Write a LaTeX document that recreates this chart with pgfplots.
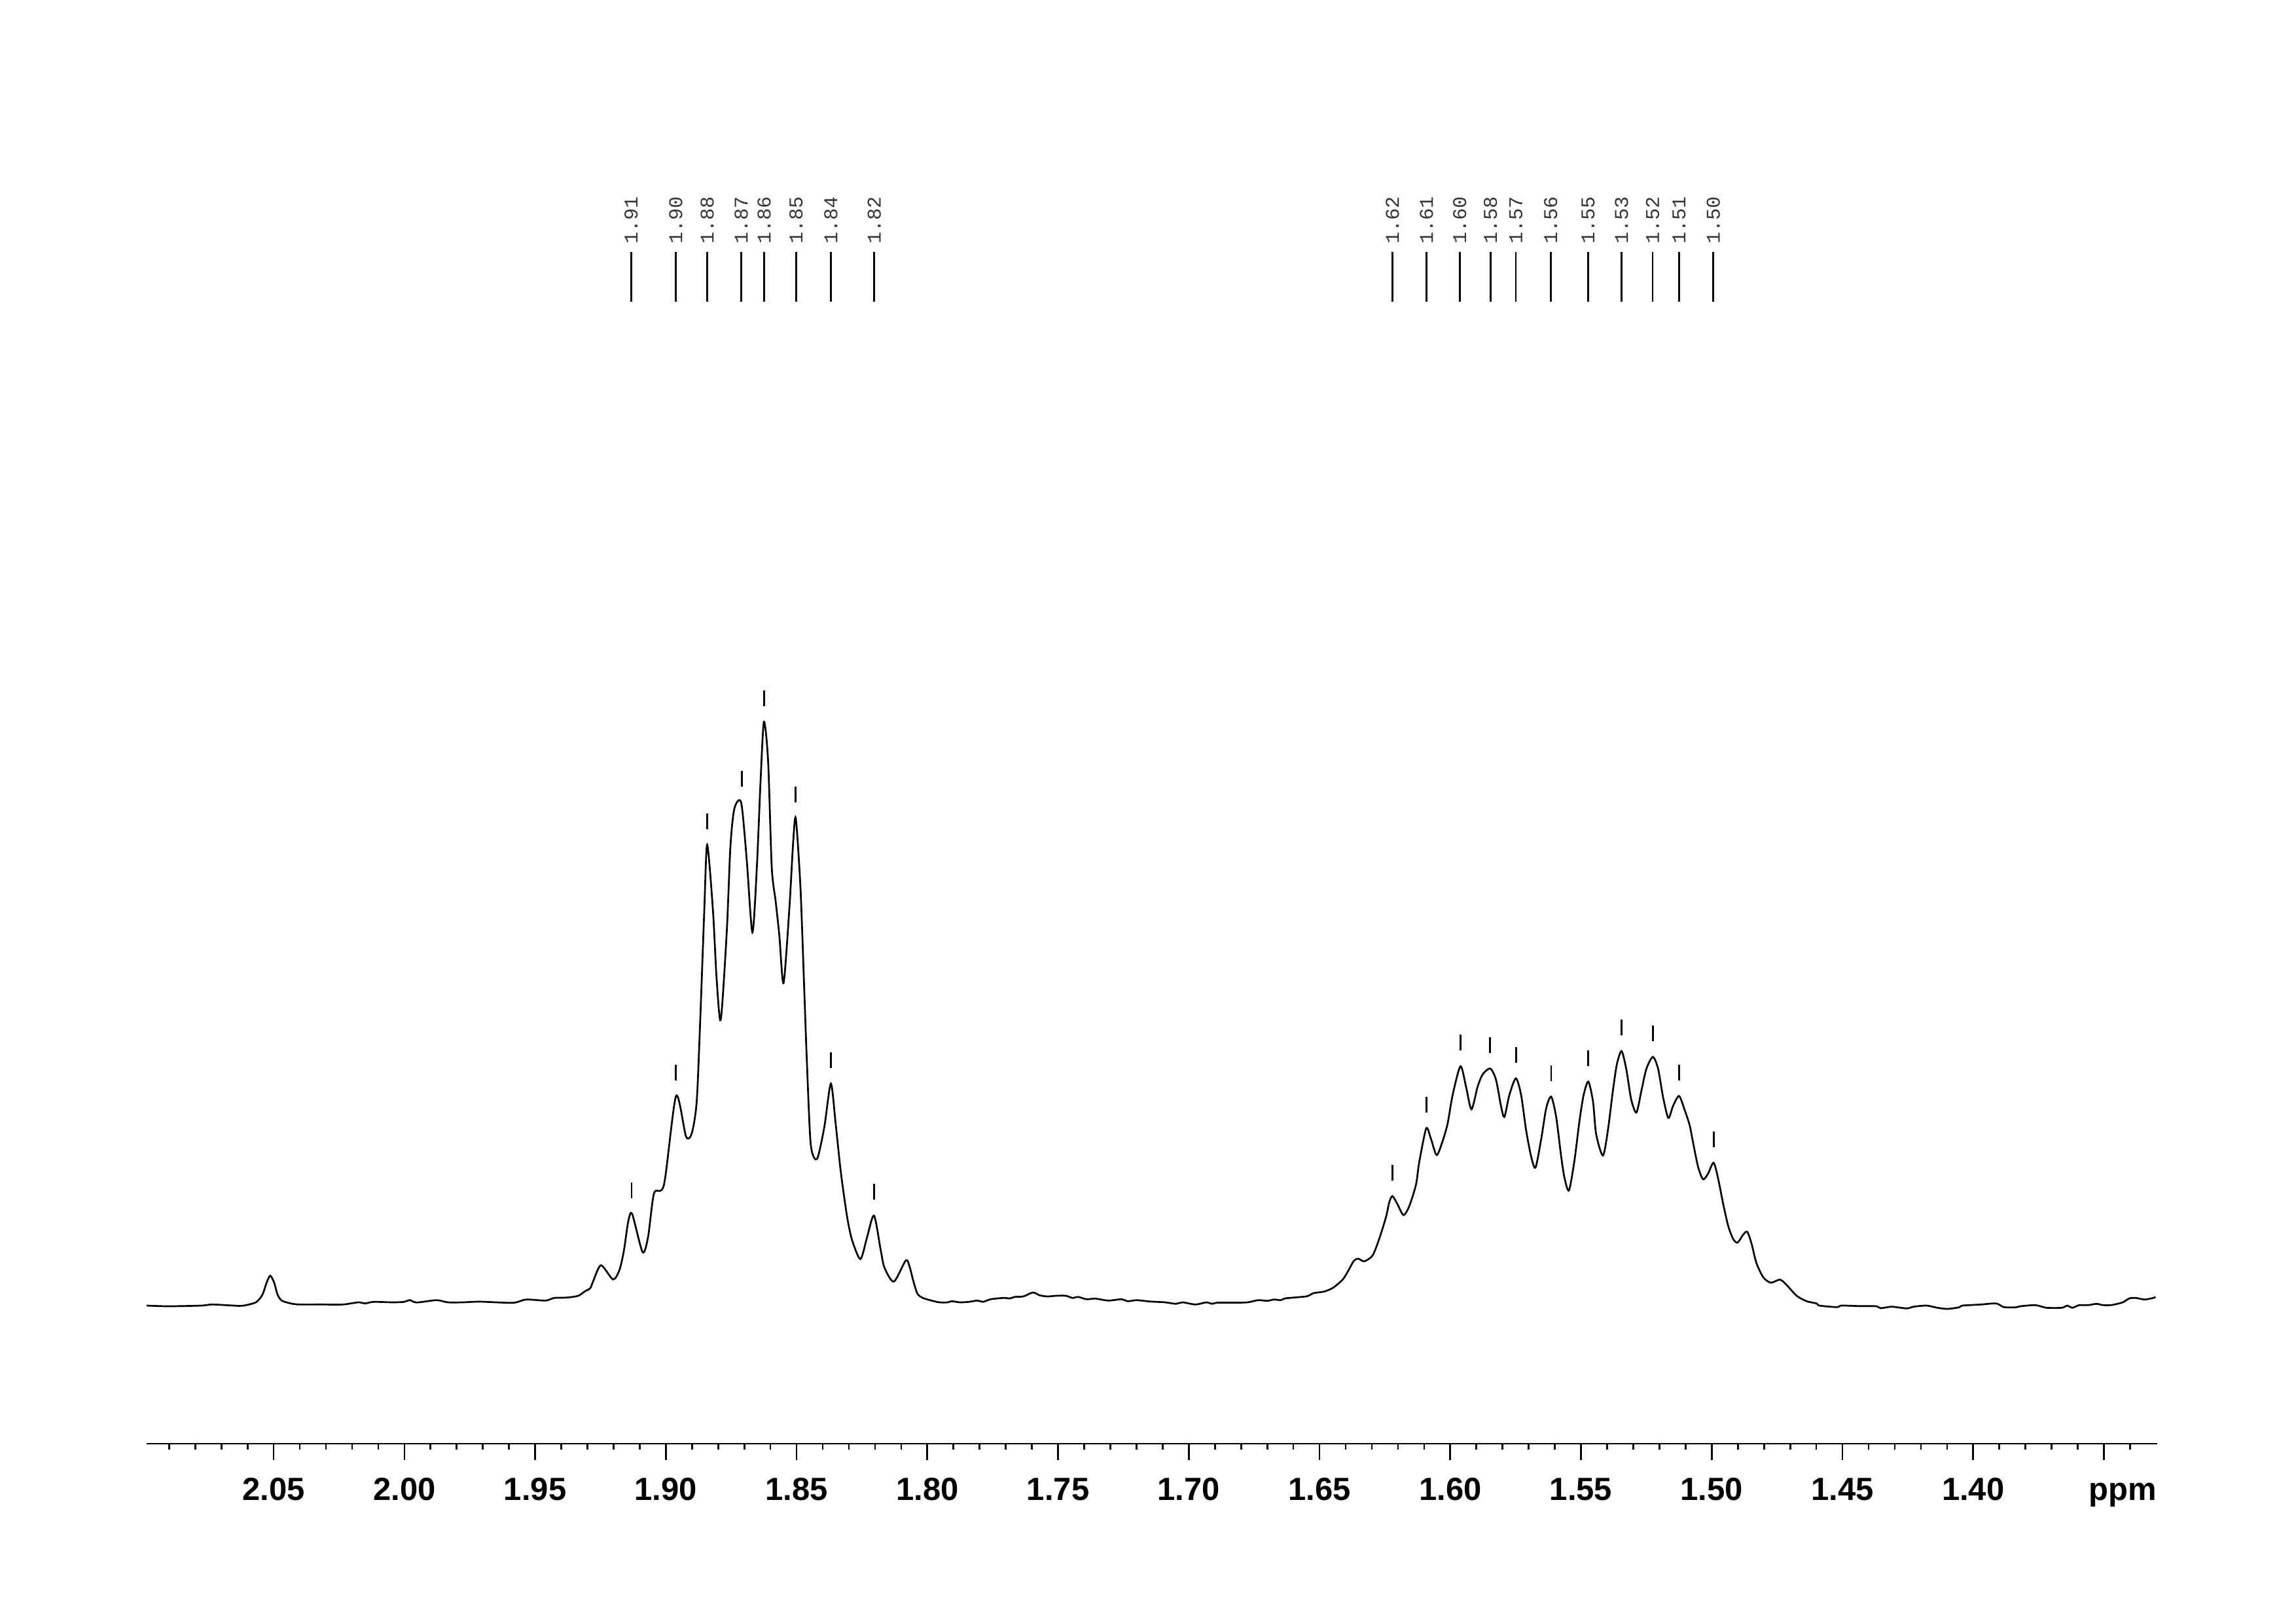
\documentclass[border=0pt]{standalone}
\usepackage{fontspec}
\setmainfont{Liberation Sans}
\newfontfamily\labelfont{Liberation Mono}
\usepackage{pgfplots}
\pgfplotsset{compat=1.18}
\usepackage{pgfplotstable}

\pgfplotstableread{
ppm I
2.0986 211
2.0902 210
2.0777 211
2.0735 212.7
2.0652 211
2.0619 210.7
2.0568 216
2.0543 227.7
2.0527 246
2.0513 256.7
2.0498 246
2.0485 227.7
2.0469 218.7
2.0435 214.3
2.0402 212.7
2.0318 212.7
2.0235 212.7
2.0176 216
2.0151 214.3
2.0118 216.7
2.0044 216
2.0001 216.7
1.9980 219.5
1.9953 215.8
1.9877 219.3
1.9834 216
1.9777 216
1.9711 217
1.9585 215.3
1.9535 220.3
1.9460 218.7
1.9427 222.7
1.9377 223.3
1.9335 226
1.9310 232.7
1.9289 237.7
1.9277 249.3
1.9248 272.7
1.9202 251
1.9177 266
1.9160 296
1.9144 339.3
1.9129 351
1.9089 292.7
1.9068 316
1.9045 383
1.9007 396
1.8961 531.3
1.8923 469.5
1.8901 474.1
1.8882 522.9
1.8868 653
1.8853 815.6
1.8842 915.2
1.8820 815.6
1.8806 711.5
1.8790 647.8
1.8767 783.1
1.8753 913.2
1.8738 970.5
1.8712 979.6
1.8691 893.7
1.8669 781.2
1.8652 880.7
1.8638 1010.8
1.8625 1103.2
1.8609 1043.4
1.8595 880.7
1.8580 828.7
1.8566 776.6
1.8550 703.7
1.8528 815.6
1.8513 919.7
1.8503 955.5
1.8485 848.2
1.8470 685.5
1.8461 587.9
1.8446 457.8
1.8422 435
1.8394 483.8
1.8369 550.2
1.8351 490.4
1.8331 415.5
1.8307 347.2
1.8288 311.4
1.8256 282.1
1.8231 314.7
1.8204 348.5
1.8178 295.2
1.8164 269.1
1.8128 247.7
1.8082 280.2
1.8067 269.3
1.8054 249.3
1.8038 229.3
1.8017 222.7
1.7984 218.7
1.7954 216
1.7921 216
1.7908 217.7
1.7875 216
1.7842 216.7
1.7808 218.7
1.7787 216.7
1.7758 220.7
1.7708 222.7
1.7683 222
1.7666 224.3
1.7633 225
1.7596 231
1.7570 226.7
1.7541 225
1.7508 226
1.7470 226
1.7445 222.7
1.7424 224.3
1.7391 220.7
1.7358 221.7
1.7308 218.7
1.7258 220.7
1.7233 217.7
1.7199 219.3
1.7149 217.3
1.7091 216
1.7049 213.7
1.7024 216
1.6974 212.7
1.6932 216
1.6911 213.7
1.6890 215.5
1.6824 215.5
1.6774 216
1.6736 219.3
1.6699 218.3
1.6674 220.3
1.6649 219.3
1.6632 222
1.6598 223.3
1.6548 225.3
1.6523 230
1.6482 232.5
1.6448 238.3
1.6411 251
1.6390 264.3
1.6369 279.3
1.6352 282.7
1.6329 278.7
1.6297 287.7
1.6272 312.7
1.6246 346
1.6233 369.3
1.6221 378.3
1.6202 366
1.6179 349.3
1.6157 362.7
1.6131 396
1.6119 429.3
1.6092 481.7
1.6074 466
1.6052 441
1.6029 462.7
1.6010 489.3
1.5991 532.7
1.5961 576.7
1.5940 546
1.5919 511
1.5895 546
1.5876 564.3
1.5847 573.3
1.5825 556
1.5806 516
1.5793 499.3
1.5774 532.7
1.5749 558.3
1.5729 532.7
1.5710 479.3
1.5691 439.3
1.5674 422
1.5652 466
1.5633 512.7
1.5614 530.3
1.5595 499.3
1.5576 439.3
1.5563 406
1.5546 387
1.5525 432.7
1.5506 492.7
1.5490 532.7
1.5472 553.3
1.5454 522.7
1.5442 472.7
1.5416 440.3
1.5397 479.3
1.5378 539.3
1.5363 579.3
1.5345 600
1.5327 572.7
1.5308 526
1.5288 506
1.5269 539.3
1.5250 572.7
1.5225 591
1.5205 572.7
1.5186 529.3
1.5166 497.7
1.5148 516
1.5125 531.3
1.5103 509.3
1.5084 486
1.5071 459.3
1.5052 422.7
1.5033 404
1.5014 412.7
1.4993 429.3
1.4976 406
1.4956 366
1.4937 332.7
1.4918 312.7
1.4901 307.3
1.4880 319.3
1.4864 323.7
1.4848 306
1.4829 276
1.4803 254.3
1.4774 246
1.4739 250.7
1.4714 242.7
1.4675 226
1.4637 217.7
1.4599 214.3
1.4588 211
1.4521 208.7
1.4504 211
1.4437 210.3
1.4371 210
1.4354 207
1.4312 209.3
1.4254 206.7
1.4229 209.3
1.4179 211
1.4137 207.7
1.4099 206
1.4054 208.3
1.4041 211
1.3970 212.7
1.3912 214.3
1.3883 208.7
1.3837 208.3
1.3820 210
1.3762 211.7
1.3720 207.7
1.3661 207.7
1.3641 211
1.3620 207.7
1.3595 211.7
1.3561 211.7
1.3528 213.7
1.3503 211.7
1.3469 212
1.3428 216
1.3403 222
1.3378 222.7
1.3344 220.3
1.3311 222.7
1.3303 224.3
}\spectrum

\pgfplotstableread{
x ly ty lab
1.9133 1783 1833 1.91
1.8962 1783 1833 1.90
1.8842 1783 1833 1.88
1.8712 1783 1833 1.87
1.8624 1783 1833 1.86
1.8502 1783 1833 1.85
1.8369 1783 1833 1.84
1.8203 1783 1833 1.82
1.6221 1783 1833 1.62
1.6091 1783 1833 1.61
1.5964 1783 1833 1.60
1.5846 1783 1833 1.58
1.5749 1783 1833 1.57
1.5616 1783 1833 1.56
1.5473 1783 1833 1.55
1.5345 1783 1833 1.53
1.5226 1783 1833 1.52
1.5125 1783 1833 1.51
1.4994 1783 1833 1.50
}\labels

\pgfplotstableread{
x y
1.9131 387
1.8961 567
1.8842 951
1.8710 1016
1.8625 1139
1.8503 992
1.8369 586
1.8204 385
1.6221 414
1.6092 518
1.5961 613
1.5847 609
1.5749 594
1.5614 566
1.5472 589
1.5345 636
1.5225 627
1.5125 567
1.4993 465
}\picks

\begin{document}
\begin{tikzpicture}
\begin{axis}[
  scale only axis,
  width=260.09mm, height=165.6mm,
  x dir=reverse,
  xmin=1.3296, xmax=2.0986,
  ymin=0, ymax=1956,
  axis x line*=bottom,
  axis y line=none,
  clip=false,
  axis line style={line width=0.65pt, black},
  tick align=outside,
  major tick length=2.12mm,
  minor tick length=0.72mm,
  tick style={line width=0.65pt, black},
  xtick={1.40,1.45,1.50,1.55,1.60,1.65,1.70,1.75,1.80,1.85,1.90,1.95,2.00,2.05},
  xticklabels={1.40,1.45,1.50,1.55,1.60,1.65,1.70,1.75,1.80,1.85,1.90,1.95,2.00,2.05},
  extra x ticks={1.35},
  extra x tick labels={ppm},
  extra x tick style={xticklabel style={xshift=2.4mm}},
  minor xtick={1.34,1.36,1.37,1.38,1.39,1.41,1.42,1.43,1.44,1.46,1.47,1.48,1.49,1.51,1.52,1.53,1.54,1.56,1.57,1.58,1.59,1.61,1.62,1.63,1.64,1.66,1.67,1.68,1.69,1.71,1.72,1.73,1.74,1.76,1.77,1.78,1.79,1.81,1.82,1.83,1.84,1.86,1.87,1.88,1.89,1.91,1.92,1.93,1.94,1.96,1.97,1.98,1.99,2.01,2.02,2.03,2.04,2.06,2.07,2.08,2.09},
  typeset ticklabels with strut,
  xticklabel style={font=\bfseries\fontsize{11.8}{13}\selectfont, anchor=north, inner sep=0pt, yshift=-1.9mm},
]
\addplot[black, line width=0.65pt, smooth, tension=0.45] table[x=ppm, y=I] {\spectrum};
\addplot[black, line width=0.65pt, only marks, mark=|, mark size=3.217mm] table[x=x, y=ly] {\labels};
\addplot[black, line width=0.7pt, only marks, mark=|, mark size=1.02mm] table[x=x, y=y] {\picks};
\addplot[draw=none, mark=none, nodes near coords, point meta=explicit symbolic,
  every node near coord/.append style={rotate=90, anchor=west, inner sep=0pt, font=\labelfont\fontsize{7.2}{8}\selectfont, text=black!80}]
  table[x=x, y=ty, meta=lab] {\labels};
\end{axis}
\useasboundingbox ([shift={(-18.965mm,-23.113mm)}]current axis.south west) rectangle ++(297mm,209.88mm);
\end{tikzpicture}
\end{document}
